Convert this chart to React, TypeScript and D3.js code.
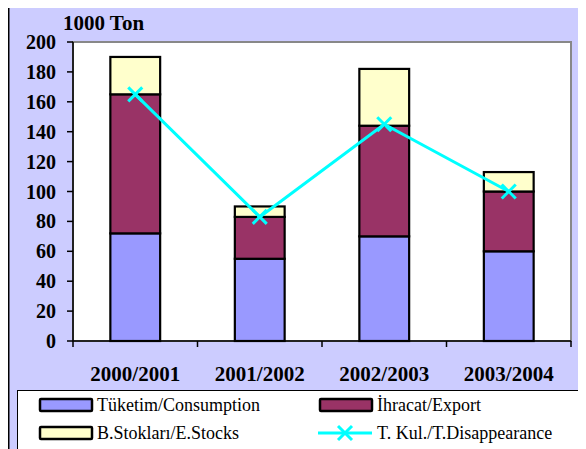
import React from "react";
import * as d3 from "d3";

const categories = ["2000/2001", "2001/2002", "2002/2003", "2003/2004"];
const consumption = [72, 55, 70, 60];
const exportVals = [93, 28, 74, 40];
const stocks = [25, 7, 38, 13];
const disappearance = [165, 83, 145, 100];
const yTicks = [0, 20, 40, 60, 80, 100, 120, 140, 160, 180, 200];
const seriesNames = ["Tüketim/Consumption", "İhracat/Export", "B.Stokları/E.Stocks", "T. Kul./T.Disappearance"];
const colors = ["#9999FF", "#993366", "#FFFFCC", "#00FFFF"];

const W = 586, H = 449;
const plot = { left: 73, right: 571, top: 42, bottom: 341 };
const FF = "Liberation Serif";

export default function App() {
  const x = d3.scaleBand<string>().domain(categories).range([plot.left, plot.right]).padding(0);
  const y = d3.scaleLinear().domain([0, 200]).range([plot.bottom, plot.top]);
  const bw = x.bandwidth() / 2.5;
  const stacked = d3.stack<any>().keys(["c", "e", "s"])(
    categories.map((c, i) => ({ cat: c, c: consumption[i], e: exportVals[i], s: stocks[i] }))
  );
  const line = d3.line<number>().x((_, i) => x(categories[i])! + x.bandwidth() / 2).y((d) => y(d));
  const xm = 7;
  const cross = (cx: number, cy: number, k: string) => (
    <g key={k} stroke={colors[3]} strokeWidth={3}>
      <line x1={cx - xm} y1={cy - xm} x2={cx + xm} y2={cy + xm} />
      <line x1={cx - xm} y1={cy + xm} x2={cx + xm} y2={cy - xm} />
    </g>
  );
  const legend = [
    { x: 40, y: 405, i: 0 },
    { x: 320, y: 405, i: 1 },
    { x: 40, y: 433, i: 2 },
    { x: 320, y: 433, i: 3 },
  ];
  return (
    <div style={{ margin: "-8px 0 0 -8px", width: W, height: H, fontFamily: FF }}>
      <svg width={W} height={H} style={{ display: "block", fontFamily: FF }} fontFamily={FF}>
        <rect x={8.5} y={3.5} width={W} height={H} fill="#CCCCFF" stroke="#000" strokeWidth={2} />
        <rect x={plot.left} y={plot.top} width={plot.right - plot.left} height={plot.bottom - plot.top} fill="#fff" stroke="#888" strokeWidth={2} />
        {stacked.map((s, si) =>
          s.map((d, i) => (
            <rect
              key={`${si}-${i}`}
              x={x(categories[i])! + (x.bandwidth() - bw) / 2}
              y={y(d[1])}
              width={bw}
              height={y(d[0]) - y(d[1])}
              fill={colors[si]}
              stroke="#000"
              strokeWidth={2.2}
            />
          ))
        )}
        <path d={line(disappearance) || ""} fill="none" stroke={colors[3]} strokeWidth={3} />
        {disappearance.map((v, i) => cross(x(categories[i])! + x.bandwidth() / 2, y(v), `m${i}`))}
        <line x1={plot.left} y1={plot.top} x2={plot.left} y2={plot.bottom} stroke="#000" strokeWidth={1.5} />
        <line x1={plot.left} y1={plot.bottom} x2={plot.right} y2={plot.bottom} stroke="#000" strokeWidth={1.5} />
        {yTicks.map((t) => (
          <g key={t}>
            <line x1={plot.left - 6} x2={plot.left} y1={y(t)} y2={y(t)} stroke="#000" strokeWidth={1.5} />
            <text x={56} y={y(t)} dy="0.35em" textAnchor="end" fontSize={20} fontWeight="bold" fontFamily={FF}>{t}</text>
          </g>
        ))}
        {categories.map((c) => (
          <g key={c}>
            <line x1={x(c)!} x2={x(c)!} y1={plot.bottom} y2={plot.bottom + 6} stroke="#000" strokeWidth={1.5} />
            <text x={x(c)! + x.bandwidth() / 2} y={381} textAnchor="middle" fontSize={21} fontWeight="bold" fontFamily={FF}>{c}</text>
          </g>
        ))}
        <line x1={plot.right} x2={plot.right} y1={plot.bottom} y2={plot.bottom + 6} stroke="#000" strokeWidth={1.5} />
        <text x={63} y={30} fontSize={21} fontWeight="bold" fontFamily={FF}>1000 Ton</text>
        <rect x={17.5} y={390.5} width={562} height={70} fill="#fff" stroke="#000" strokeWidth={1} />
        {legend.map((l) => (
          <g key={l.i}>
            {l.i < 3 ? (
              <rect x={l.x} y={l.y - 6} width={52} height={12} fill={colors[l.i]} stroke="#000" strokeWidth={2.5} rx={1} />
            ) : (
              <g>
                <line x1={l.x - 2} x2={l.x + 52} y1={l.y} y2={l.y} stroke={colors[3]} strokeWidth={3} />
                {cross(l.x + 25, l.y, "lg")}
              </g>
            )}
            <text x={l.x + 57} y={l.y} dy="0.35em" fontSize={18} fontFamily={FF}>{seriesNames[l.i]}</text>
          </g>
        ))}
      </svg>
    </div>
  );
}
